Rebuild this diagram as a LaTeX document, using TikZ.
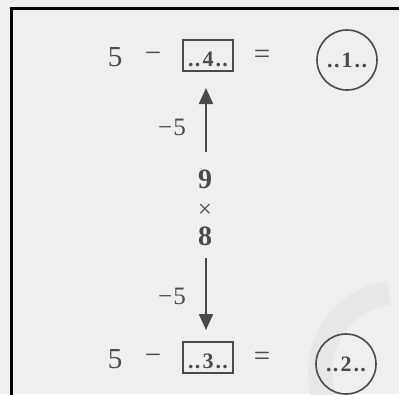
\documentclass[tikz,border=0pt]{standalone}
\usepackage{fontspec}
\setmainfont{Liberation Serif}
\usetikzlibrary{arrows.meta}
\definecolor{bg}{HTML}{EFEFEF}
\definecolor{ink}{HTML}{4A4A4A}
\definecolor{wm}{HTML}{E7E7E7}
\newcommand{\dotted}[1]{.\kern1.5pt.\kern2pt#1\kern2pt.\kern1.5pt.}
\tikzset{
  numtxt/.style={inner sep=0pt, text=ink, font=\fontsize{29}{32}\selectfont},
  lbltxt/.style={inner sep=0pt, text=ink, font=\fontsize{25}{28}\selectfont},
  boldtxt/.style={inner sep=0pt, text=ink, font=\fontsize{28}{32}\selectfont\bfseries},
  boxed/.style={draw=ink, line width=1.6pt, inner sep=0pt, minimum width=50pt, minimum height=31pt,
    text=ink, font=\fontsize{22}{26}\selectfont\bfseries, text height=22pt, text depth=0pt},
  ringed/.style={draw=ink, line width=1.6pt, circle, inner sep=0pt, minimum size=60pt,
    text=ink, font=\fontsize{22}{26}\selectfont\bfseries},
  arr/.style={draw=ink, line width=2pt, -{Triangle[length=16pt,width=14pt]}},
  frame/.style={draw=black, line width=3pt}
}
\begin{document}
\begin{tikzpicture}[x=1pt,y=-1pt]
\fill[bg] (0,0) rectangle (399,394);
\useasboundingbox (0,0) rectangle (399,394);
% faint watermark
\draw[wm, line width=24pt] (400,372) ++(262:80) arc[start angle=262, end angle=160, radius=80];
% frame
\coordinate (ftl) at (11.5,8);
\coordinate (ftr) at (400,8);
\coordinate (fbl) at (11.5,395);
\draw[frame] (fbl) -- (ftl) -- (ftr);
% top row
\node[numtxt] (t5) at (115,57) {5};
\node[numtxt] (tminus) at (153,57.5) {−};
\node[boxed] (b4) at (208,55.5) {\dotted{4}};
\node[numtxt] (teq) at (262,57) {=};
\node[ringed] (c1) at (347,60) {\dotted{1}};
% bottom row
\node[numtxt] (b5) at (115,359) {5};
\node[numtxt] (bminus) at (153,359.5) {−};
\node[boxed] (b3) at (208,357.5) {\dotted{3}};
\node[numtxt] (beq) at (262,359) {=};
\node[ringed] (c2) at (346,364) {\dotted{2}};
% middle
\node[boldtxt] (nine) at (205,179.5) {9};
\node[lbltxt] (times) at (205,211) {×};
\node[boldtxt] (eight) at (205,236) {8};
\node[lbltxt] (ml1) at (172,127) {−\kern1pt5};
\node[lbltxt] (ml2) at (172,296) {−\kern1pt5};
% arrows
\coordinate (ua0) at (206,152);
\coordinate (ua1) at (206,88);
\coordinate (da0) at (206,258);
\coordinate (da1) at (206,330);
\draw[arr] (ua0) -- (ua1);
\draw[arr] (da0) -- (da1);
\end{tikzpicture}
\end{document}
